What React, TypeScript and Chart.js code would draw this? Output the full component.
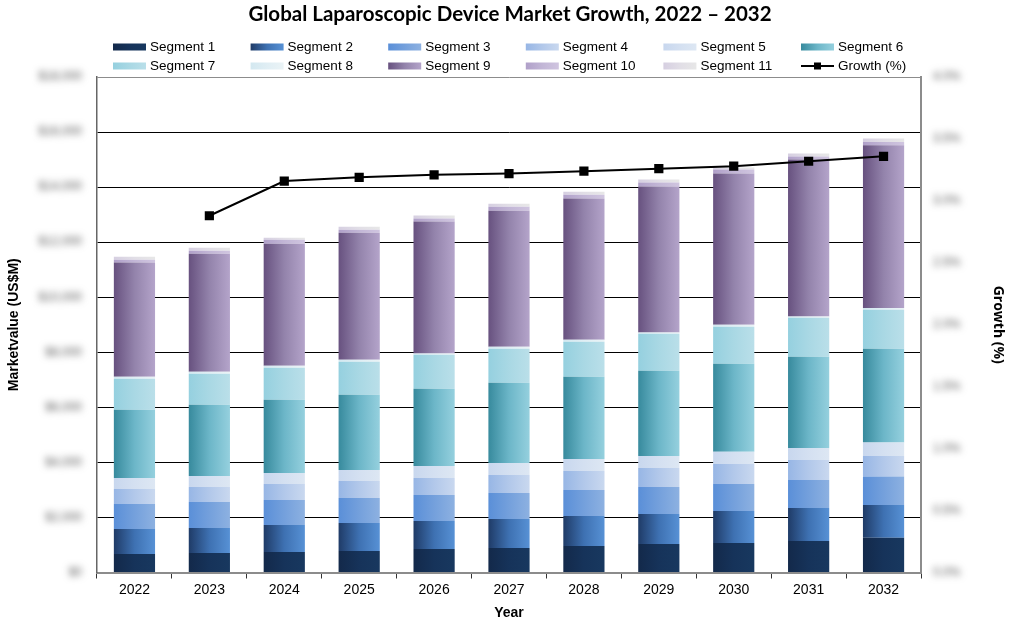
import { useEffect, useRef } from "react";
import { Chart, registerables } from "chart.js";

Chart.register(...registerables);

// ---- data ----
const years = ["2022", "2023", "2024", "2025", "2026", "2027", "2028", "2029", "2030", "2031", "2032"];

const segment1 = [673, 709, 745, 782, 855, 891, 964, 1036, 1073, 1145, 1265];
const segment2 = [909, 909, 982, 1018, 1018, 1054, 1091, 1091, 1164, 1200, 1188];
const segment3 = [909, 945, 909, 909, 945, 945, 945, 982, 982, 1018, 1030];
const segment4 = [545, 545, 582, 618, 618, 655, 691, 691, 727, 727, 752];
const segment5 = [400, 400, 400, 400, 436, 436, 436, 436, 436, 436, 485];
const segment6 = [2473, 2582, 2654, 2727, 2800, 2909, 2982, 3091, 3200, 3309, 3406];
const segment7 = [1127, 1127, 1164, 1200, 1236, 1236, 1273, 1345, 1345, 1418, 1418];
const segment8 = [73, 73, 73, 73, 45, 73, 73, 45, 73, 45, 62];
const segment9 = [4156, 4291, 4436, 4618, 4800, 4945, 5127, 5309, 5491, 5709, 5913];
const segment10 = [97, 109, 145, 109, 109, 145, 145, 145, 145, 109, 124];
const segment11 = [109, 109, 73, 109, 109, 109, 109, 109, 73, 109, 120];

const growthPct: (number | null)[] = [null, 2.88, 3.16, 3.19, 3.21, 3.22, 3.24, 3.26, 3.28, 3.32, 3.36];

const segmentNames = [
  "Segment 1", "Segment 2", "Segment 3", "Segment 4", "Segment 5", "Segment 6",
  "Segment 7", "Segment 8", "Segment 9", "Segment 10", "Segment 11",
];
const segmentValues = [
  segment1, segment2, segment3, segment4, segment5, segment6,
  segment7, segment8, segment9, segment10, segment11,
];

// left-to-right shading of each segment
const segmentShades: string[][] = [
  ["#13294a", "#16335a", "#18385f"],
  ["#1f3b67", "#3e71b2", "#5791d5"],
  ["#5a8fd8", "#74a0dc", "#8db1e1"],
  ["#97b6e5", "#b2c8ea", "#c9d8ef"],
  ["#c8d7ee", "#d4e0f1", "#dde7f3"],
  ["#378a9d", "#6cb6c8", "#95d0de"],
  ["#95d0df", "#a9d8e4", "#badfe9"],
  ["#d3e8f0", "#e0eef4", "#eaf3f6"],
  ["#67517f", "#9383ab", "#b4a4ca"],
  ["#b0a0c9", "#c2b6d6", "#d0c5e0"],
  ["#d6cfe1", "#e1dee6", "#e7e7e7"],
];

const yMax = 18000;
const yStep = 2000;
const growthMax = 4;
const growthStep = 0.5;

const TITLE = "Global Laparoscopic Device Market Growth, 2022 \u2013 2032";
const BAR_PCT = 0.55;
const ARIAL = "'Liberation Sans', Arial, sans-serif";

const fmtValue = (v: number) => "$" + v.toLocaleString("en-US");
const fmtGrowth = (v: number) => v.toFixed(1) + "%";

function hGradient(ctx: CanvasRenderingContext2D, x0: number, x1: number, shades: string[]) {
  const g = ctx.createLinearGradient(x0, 0, x1, 0);
  g.addColorStop(0, shades[0]);
  g.addColorStop(0.5, shades[1]);
  g.addColorStop(1, shades[2]);
  return g;
}

// title, legend grid and soft tick labels drawn on top of the chart
const decorations = {
  id: "decorations",
  afterDraw(chart: any) {
    const ctx: CanvasRenderingContext2D = chart.ctx;
    const area = chart.chartArea;

    // title
    ctx.save();
    ctx.fillStyle = "#000";
    ctx.font = "bold 20.5px Lato, 'Open Sans', sans-serif";
    ctx.textAlign = "center";
    ctx.textBaseline = "middle";
    ctx.fillText(TITLE, 510, 14);
    ctx.restore();

    // legend: 2 rows x 6 columns
    ctx.save();
    ctx.font = "13.5px " + ARIAL;
    ctx.textBaseline = "middle";
    ctx.textAlign = "left";
    const colX0 = 113;
    const colStep = 137.6;
    const rowY = [47, 66];
    const boxW = 33;
    const boxH = 7;
    for (let i = 0; i < 12; i++) {
      const col = i % 6;
      const row = Math.floor(i / 6);
      const x = colX0 + col * colStep;
      const y = rowY[row];
      if (i < 11) {
        ctx.fillStyle = hGradient(ctx, x, x + boxW, segmentShades[i]);
        ctx.fillRect(x, y - boxH / 2, boxW, boxH);
        ctx.fillStyle = "#000";
        ctx.fillText(segmentNames[i], x + boxW + 4, y + 0.5);
      } else {
        ctx.strokeStyle = "#000";
        ctx.lineWidth = 2;
        ctx.beginPath();
        ctx.moveTo(x, y);
        ctx.lineTo(x + boxW, y);
        ctx.stroke();
        ctx.fillStyle = "#000";
        ctx.fillRect(x + boxW / 2 - 3.5, y - 3.5, 7, 7);
        ctx.fillText("Growth (%)", x + boxW + 4, y + 0.5);
      }
    }
    ctx.restore();

    // soft tick labels on both value axes
    const yScale = chart.scales.y;
    const gScale = chart.scales.y1;
    ctx.save();
    ctx.filter = "blur(3.5px)";
    ctx.fillStyle = "#555";
    ctx.font = "12px " + ARIAL;
    ctx.textBaseline = "middle";
    ctx.textAlign = "right";
    yScale.ticks.forEach((t: any) => {
      ctx.fillText(fmtValue(t.value), area.left - 15, yScale.getPixelForValue(t.value));
    });
    ctx.textAlign = "left";
    gScale.ticks.forEach((t: any) => {
      ctx.fillText(fmtGrowth(t.value), area.right + 12, gScale.getPixelForValue(t.value));
    });
    ctx.restore();
  },
};

export default function App() {
  const canvasRef = useRef<HTMLCanvasElement | null>(null);

  useEffect(() => {
    document.body.style.margin = "0";
    const canvas = canvasRef.current;
    if (!canvas) return;

    const barDatasets = segmentValues.map((vals, i) => ({
      type: "bar" as const,
      label: segmentNames[i],
      data: vals,
      yAxisID: "y",
      stack: "market",
      order: 1,
      barPercentage: BAR_PCT,
      categoryPercentage: 1,
      borderWidth: 0,
      backgroundColor: (c: any) => {
        const chart = c.chart;
        const xs = chart.scales?.x;
        if (!chart.chartArea || !xs || c.type !== "data") return segmentShades[i][1];
        const cx = xs.getPixelForValue(c.dataIndex);
        const half = (xs.width / years.length) * BAR_PCT / 2;
        return hGradient(chart.ctx, cx - half, cx + half, segmentShades[i]);
      },
    }));

    const chart = new Chart(canvas, {
      data: {
        labels: years,
        datasets: [
          ...barDatasets,
          {
            type: "line" as const,
            label: "Growth (%)",
            data: growthPct,
            yAxisID: "y1",
            order: 0,
            borderColor: "#000",
            borderWidth: 2,
            backgroundColor: "#000",
            pointStyle: "rect",
            pointRadius: 6.5,
            pointBackgroundColor: "#000",
            pointBorderWidth: 0,
            tension: 0,
          },
        ] as any,
      },
      options: {
        responsive: false,
        animation: false,
        layout: { padding: { top: 77, left: 0, right: 0, bottom: 0 } },
        plugins: {
          legend: { display: false },
          title: { display: false },
          tooltip: { enabled: false },
        },
        scales: {
          x: {
            stacked: true,
            offset: true,
            grid: {
              offset: true,
              drawOnChartArea: false,
              drawTicks: true,
              tickLength: 6,
              color: "#333",
            },
            border: { color: "#8c8c8c", width: 2 },
            ticks: {
              color: "#000",
              font: { family: ARIAL, size: 14 },
              padding: 3,
              maxRotation: 0,
            },
            title: {
              display: true,
              text: "Year",
              color: "#000",
              font: { family: ARIAL, size: 14, weight: "bold" },
              padding: { top: 0, bottom: 0 },
            },
            afterFit: (s: any) => { s.height = 49.5; },
          },
          y: {
            stacked: true,
            min: 0,
            max: yMax,
            position: "left",
            ticks: { display: false, stepSize: yStep },
            grid: {
              drawTicks: false,
              color: (c: any) => (c.tick && c.tick.value === yMax ? "#8c8c8c" : "#000"),
              lineWidth: 1,
            },
            border: { color: "#666", width: 1.5 },
            title: {
              display: true,
              text: "Marketvalue (US$M)",
              color: "#000",
              font: { family: ARIAL, size: 14, weight: "bold" },
              padding: { top: 6, bottom: 0 },
            },
            afterFit: (s: any) => { s.width = 97; },
          },
          y1: {
            min: 0,
            max: growthMax,
            position: "right",
            ticks: { display: false, stepSize: growthStep },
            grid: { drawOnChartArea: false, drawTicks: false },
            border: { color: "#8c8c8c", width: 2 },
            title: {
              display: true,
              text: "Growth (%)",
              color: "#000",
              font: { family: "'Open Sans', sans-serif", size: 14, weight: "bold" },
              padding: { top: 5, bottom: 0 },
            },
            afterFit: (s: any) => { s.width = 90; },
          },
        },
      } as any,
      plugins: [decorations],
    });

    return () => chart.destroy();
  }, []);

  return (
    <div style={{ position: "absolute", left: 0, top: 0, width: 1011, height: 622 }}>
      <canvas ref={canvasRef} width={1011} height={622} />
    </div>
  );
}
